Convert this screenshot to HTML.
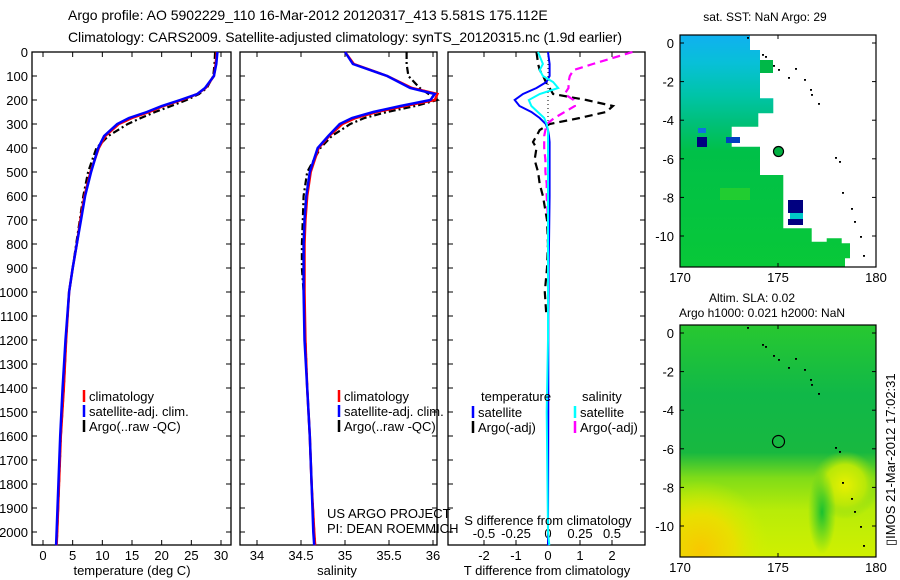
<!DOCTYPE html>
<html><head><meta charset="utf-8"><style>
html,body{margin:0;padding:0;background:#fff;width:900px;height:580px;overflow:hidden;}
svg{display:block;font-family:"Liberation Sans",sans-serif;}
</style></head><body>
<svg id="fig" width="900" height="580" viewBox="0 0 900 580" overflow="hidden">
<defs>
<linearGradient id="sstg" x1="0" y1="0" x2="0" y2="1">
<stop offset="0" stop-color="#10b0f0"/><stop offset="0.12" stop-color="#08c0d8"/><stop offset="0.26" stop-color="#00c4a8"/><stop offset="0.38" stop-color="#00c078"/><stop offset="0.5" stop-color="#00c048"/><stop offset="1" stop-color="#08c838"/>
</linearGradient>
<linearGradient id="slag" x1="0" y1="0" x2="0" y2="1">
<stop offset="0" stop-color="#28c830"/><stop offset="0.3" stop-color="#10b848"/><stop offset="0.55" stop-color="#18b840"/><stop offset="0.66" stop-color="#80dc18"/><stop offset="0.8" stop-color="#b8ec08"/><stop offset="1" stop-color="#d0f000"/>
</linearGradient>
<radialGradient id="yl1" gradientUnits="userSpaceOnUse" cx="700" cy="550" r="70"><stop offset="0" stop-color="#f8c800"/><stop offset="0.5" stop-color="#e8e000"/><stop offset="1" stop-color="#d0f000" stop-opacity="0"/></radialGradient>
<radialGradient id="yl2" gradientUnits="userSpaceOnUse" cx="845" cy="485" r="34"><stop offset="0" stop-color="#e8f000"/><stop offset="0.6" stop-color="#b8e808"/><stop offset="1" stop-color="#80d818" stop-opacity="0"/></radialGradient>
<radialGradient id="gr1" cx="0.5" cy="0.5" r="0.5"><stop offset="0" stop-color="#18c030"/><stop offset="1" stop-color="#30c830" stop-opacity="0"/></radialGradient>
</defs>
<g id="panels"></g>
<text x="68" y="20" font-size="14">Argo profile: AO 5902229_110 16-Mar-2012 20120317_413 5.581S 175.112E</text>
<text x="68" y="42" font-size="14" textLength="554">Climatology: CARS2009. Satellite-adjusted climatology: synTS_20120315.nc (1.9d earlier)</text>
<text x="132" y="575" font-size="13" text-anchor="middle">temperature (deg C)</text>
<text x="337" y="575" font-size="13" text-anchor="middle">salinity</text>
<text x="547" y="575" font-size="13" text-anchor="middle">T difference from climatology</text>
<text x="548" y="525" font-size="13" text-anchor="middle">S difference from climatology</text>
<text x="327" y="518" font-size="13">US ARGO PROJECT</text>
<text x="327" y="533" font-size="13">PI: DEAN ROEMMICH</text>
<text x="765" y="21" font-size="12" text-anchor="middle">sat. SST: NaN Argo: 29</text>
<text x="752" y="302" font-size="12" text-anchor="middle">Altim. SLA: 0.02</text>
<text x="762" y="317" font-size="12" text-anchor="middle">Argo h1000: 0.021 h2000: NaN</text>
<text x="0" y="0" font-size="13" transform="translate(895,546) rotate(-90)">▯IMOS 21-Mar-2012 17:02:31</text>
</svg>
<script>
// ---- data ----
const depthTicks=[0,100,200,300,400,500,600,700,800,900,1000,1100,1200,1300,1400,1500,1600,1700,1800,1900,2000];
const tempTicks=[0,5,10,15,20,25,30];
const salTicks=[34,34.5,35,35.5,36];
const salTickLabels=["34","34.5","35","35.5","36"];
const tdTicks=[-2,-1,0,1,2];
const sdTicks=[-0.5,-0.25,0,0.25,0.5];
const sdTickLabels=["-0.5","-0.25","0","0.25","0.5"];
const depths=[0,50,100,150,175,200,225,250,275,300,350,400,500,600,700,800,900,1000,1200,1400,1600,1800,2000,2055];
const tempClim=[29.3,29.1,28.8,27.4,26.0,23.4,20.3,17.9,15.0,12.8,10.5,9.4,8.0,7.0,6.3,5.7,5.0,4.4,3.9,3.5,3.0,2.7,2.4,2.3];
const tempSat=[29.4,29.2,28.8,27.3,26.0,23.1,20.0,17.5,14.5,12.5,10.3,9.3,8.1,7.1,6.4,5.7,5.0,4.4,3.8,3.3,2.9,2.6,2.3,2.2];
const tempArgo=[29.0,28.9,28.7,27.6,26.3,24.2,21.6,18.9,16.5,14.3,11.0,9.0,7.6,6.8,6.2,5.6,5.0,4.4,3.9,3.5,3.0,2.7,2.4,2.3];
const salClim=[35.0,35.1,35.48,35.76,36.05,36.02,35.68,35.36,35.12,34.97,34.82,34.70,34.61,34.57,34.55,34.54,34.54,34.54,34.55,34.57,34.60,34.62,34.65,34.66];
const salSat=[35.0,35.09,35.48,35.74,36.02,35.97,35.63,35.32,35.08,34.94,34.81,34.69,34.60,34.56,34.54,34.53,34.53,34.53,34.54,34.57,34.60,34.62,34.64,34.65];
const salArgo=[35.7,35.7,35.72,35.85,35.95,36.05,35.8,35.48,35.22,35.06,34.85,34.72,34.57,34.53,34.52,34.51,34.51,34.53,34.55,34.57,34.60,34.62,34.65,34.66];
const diffDepths=[0,50,75,100,125,150,175,200,225,250,275,300,325,350,375,400,450,500,550,600,700,800,900,1000,1100,1200,1500,2000,2055];
const tDiffSat=[0,0.05,0.05,0.05,-0.05,-0.36,-0.78,-1.04,-0.89,-0.52,-0.26,-0.07,0,0.03,0.05,0.05,0.05,0.05,0.05,0.05,0.04,0.03,0.02,0.02,0.01,0.01,0.01,0,0];
const tDiffArgo=[-0.36,-0.31,-0.26,-0.15,-0.07,0.05,0.16,1.2,2.03,1.82,0.99,0.05,-0.26,-0.36,-0.47,-0.36,-0.42,-0.31,-0.26,-0.16,-0.03,0,-0.03,-0.1,-0.05,null,null,null,null];
const sDiffSat=[-0.078,-0.04,-0.065,-0.04,0.04,0.08,-0.065,-0.15,-0.13,-0.08,-0.03,-0.01,0,0,0,0,0,0,0,0,0,0,0,0,0,0,-0.01,0,0.01];
const sDiffArgo=[0.66,0.35,0.2,0.17,0.16,0.16,0.13,0.2,0.21,0.13,0.05,-0.01,-0.02,-0.03,-0.03,-0.03,-0.02,-0.02,-0.01,-0.01,0,null,null,null,null,null,null,null,null];

const NS='http://www.w3.org/2000/svg';
const root=document.getElementById('panels');
function mk(tag,attrs,parent){const e=document.createElementNS(NS,tag);for(const k in attrs)e.setAttribute(k,attrs[k]);(parent||root).appendChild(e);return e;}
const TOP=52,BOT=545;
function yOf(d){return TOP+d*0.24;}
function scale(v0,p0,v1,p1){return v=>p0+(v-v0)*(p1-p0)/(v1-v0);}

function frame(x0,x1,name,yLabels){
  const r=mk('rect',{x:x0,y:TOP,width:x1-x0,height:BOT-TOP,fill:'none',stroke:'#000','stroke-width':1.3});
  
  
  depthTicks.forEach(d=>{
    const y=yOf(d);
    mk('line',{x1:x0,x2:x0+5,y1:y,y2:y,stroke:'#000'});
    mk('line',{x1:x1,x2:x1-5,y1:y,y2:y,stroke:'#000'});
    if(yLabels){const t=mk('text',{x:x0-4,y:y+5,'font-size':13,'text-anchor':'end'});t.textContent=d;
      
      }
  });
}
function xticks(vals,labels,sx,name){
  vals.forEach((v,i)=>{const x=sx(v);
    mk('line',{x1:x,x2:x,y1:BOT,y2:BOT-5,stroke:'#000'});
    mk('line',{x1:x,x2:x,y1:TOP,y2:TOP+5,stroke:'#000'});
    const t=mk('text',{x:x,y:BOT+15,'font-size':13,'text-anchor':'middle'});t.textContent=labels[i];
    
    
  });
}
function line(xs,ds,sx,style,name){
  let d='',pen=false;
  xs.forEach((v,i)=>{if(v===null){pen=false;return;}d+=(pen?'L':'M')+sx(v).toFixed(1)+','+yOf(ds[i]).toFixed(1);pen=true;});
  const p=mk('path',Object.assign({d:d,fill:'none'},style));
  
  
}
function legend(x,y,items){
  items.forEach((it,i)=>{
    mk('line',{x1:x,x2:x,y1:y+i*15-10,y2:y+i*15+2,stroke:it[1],'stroke-width':2.5});
    const t=mk('text',{x:x+5,y:y+i*15+1,'font-size':13});t.textContent=it[0];
    
    
  });
}
// Panel 1 temperature
const sT=scale(0,43,30,221);
frame(32,231,'temperature-panel',true);
xticks(tempTicks,tempTicks.map(String),sT,'temperature-tick-label');
line(tempArgo,depths,sT,{stroke:'#000','stroke-width':2.2,'stroke-dasharray':'7 3 2 3'},'argo-temperature-line');
line(tempClim,depths,sT,{stroke:'#f00','stroke-width':2.5},'climatology-temperature-line');
line(tempSat,depths,sT,{stroke:'#00f','stroke-width':2.5},'satellite-temperature-line');
legend(84,400,[['climatology','#f00'],['satellite-adj. clim.','#00f'],['Argo(..raw -QC)','#000']]);
// Panel 2 salinity
const sS=scale(34,257,36,433);
frame(240,437,'salinity-panel',false);
xticks(salTicks,salTickLabels,sS,'salinity-tick-label');
line(salArgo,depths,sS,{stroke:'#000','stroke-width':2.2,'stroke-dasharray':'7 3 2 3'},'argo-salinity-line');
line(salClim,depths,sS,{stroke:'#f00','stroke-width':2.5},'climatology-salinity-line');
line(salSat,depths,sS,{stroke:'#00f','stroke-width':2.5},'satellite-salinity-line');
legend(339,400,[['climatology','#f00'],['satellite-adj. clim.','#00f'],['Argo(..raw -QC)','#000']]);
// Panel 3 differences
const sTD=scale(0,548,1,580);
const sSD=scale(0,548,0.25,580);
frame(448,645,'difference-panel',false);
xticks(tdTicks,tdTicks.map(String),sTD,'t-difference-tick-label');
sdTicks.forEach((v,i)=>{const t=mk('text',{x:sSD(v),y:538,'font-size':13,'text-anchor':'middle'});t.textContent=sdTickLabels[i];
  
  });
mk('line',{x1:548,x2:548,y1:TOP,y2:BOT,stroke:'#000','stroke-dasharray':'1 3'});
line(tDiffArgo,diffDepths,sTD,{stroke:'#000','stroke-width':2.2,'stroke-dasharray':'8 5'},'argo-t-difference-line');
line(sDiffArgo,diffDepths,sSD,{stroke:'#f0f','stroke-width':2.2,'stroke-dasharray':'8 5'},'argo-s-difference-line');
line(tDiffSat,diffDepths,sTD,{stroke:'#00f','stroke-width':2},'satellite-t-difference-line');
line(sDiffSat,diffDepths,sSD,{stroke:'#0ff','stroke-width':2},'satellite-s-difference-line');
(function(){const t=mk('text',{x:481,y:401,'font-size':13});t.textContent='temperature';


const s=mk('text',{x:582,y:401,'font-size':13});s.textContent='salinity';

})();
legend(473,416,[['satellite','#00f'],['Argo(-adj)','#000']]);
legend(575,416,[['satellite','#0ff'],['Argo(-adj)','#f0f']]);

// ---- maps ----
const mapLonTicks=[170,175,180];
const mapLatTicks=[0,-2,-4,-6,-8,-10];
function mapFrame(top,bot,lat0y,name){
  const lx=scale(170,680,180,876);
  const ly=scale(0,lat0y,-10,lat0y+193);
  const r=mk('rect',{x:680,y:top,width:196,height:bot-top,fill:'none',stroke:'#000','stroke-width':1.2});
  
  
  mapLonTicks.forEach(v=>{const x=lx(v);mk('line',{x1:x,x2:x,y1:bot,y2:bot-4,stroke:'#000'});mk('line',{x1:x,x2:x,y1:top,y2:top+4,stroke:'#000'});
    const t=mk('text',{x:x,y:bot+15,'font-size':13,'text-anchor':'middle'});t.textContent=v;
    
    });
  mapLatTicks.forEach(v=>{const y=ly(v);mk('line',{x1:680,x2:684,y1:y,y2:y,stroke:'#000'});mk('line',{x1:876,x2:872,y1:y,y2:y,stroke:'#000'});
    const t=mk('text',{x:674,y:y+5,'font-size':13,'text-anchor':'end'});t.textContent=v;
    
    });
  return [lx,ly];
}
// SST map
const pts=[[120,45],[330,45],[330,90],[360,90],[360,235],[400,235],[400,280],[355,280],[355,320],[275,320],[275,380],[360,380],[360,465],[430,465],[430,625],[515,625],[515,665],[560,665],[560,655],[605,655],[605,670],[630,670],[630,715],[615,715],[615,741],[120,741]];
const poly=mk('polygon',{points:pts.map(p=>(640+p[0]/3).toFixed(1)+','+(20+p[1]/3).toFixed(1)).join(' '),fill:'url(#sstg)'});


mk('rect',{x:760,y:60,width:13,height:13,fill:'#00b848'});
mk('rect',{x:788,y:200,width:15,height:13,fill:'#000080'});
mk('rect',{x:788,y:219,width:15,height:6,fill:'#000080'});
mk('rect',{x:697,y:137,width:10,height:10,fill:'#000080'});
mk('rect',{x:726,y:137,width:14,height:6,fill:'#0040c0'});
mk('rect',{x:698,y:128,width:8,height:5,fill:'#1070e0'});
mk('rect',{x:790,y:213,width:13,height:6,fill:'#00c8c8'});
mk('rect',{x:720,y:188,width:30,height:12,fill:'#40d820',opacity:0.5});
mapFrame(35,267,43,'sst-map');
const pos1=mk('circle',{cx:778.5,cy:151.5,r:5,fill:'#00b040',stroke:'#000','stroke-width':1.2});


// SLA map
const bg=mk('rect',{x:680,y:325,width:196,height:232,fill:'url(#slag)'});


mk('rect',{x:680,y:480,width:90,height:77,fill:'url(#yl1)'});
mk('rect',{x:811,y:445,width:65,height:80,fill:'url(#yl2)'});
mk('ellipse',{cx:822,cy:512,rx:14,ry:42,fill:'url(#gr1)'});
mapFrame(325,557,333,'sla-map');
const pos2=mk('circle',{cx:778.5,cy:441.5,r:6,fill:'none',stroke:'#000','stroke-width':1.2});


// island dots
const isl=[[747,38],[762,55],[765,57],[773,66],[778,70],[788,78],[795,69],[804,80],[810,90],[811,95],[818,104],[835,158],[839,162],[842,193],[851,209],[860,237],[863,256],[854,222]];
isl.forEach(p=>{mk('rect',{x:p[0],y:p[1]-1,width:2,height:1.8,fill:'#000'});mk('rect',{x:p[0],y:p[1]+289,width:2,height:1.8,fill:'#000'});});
</script>
</body></html>
